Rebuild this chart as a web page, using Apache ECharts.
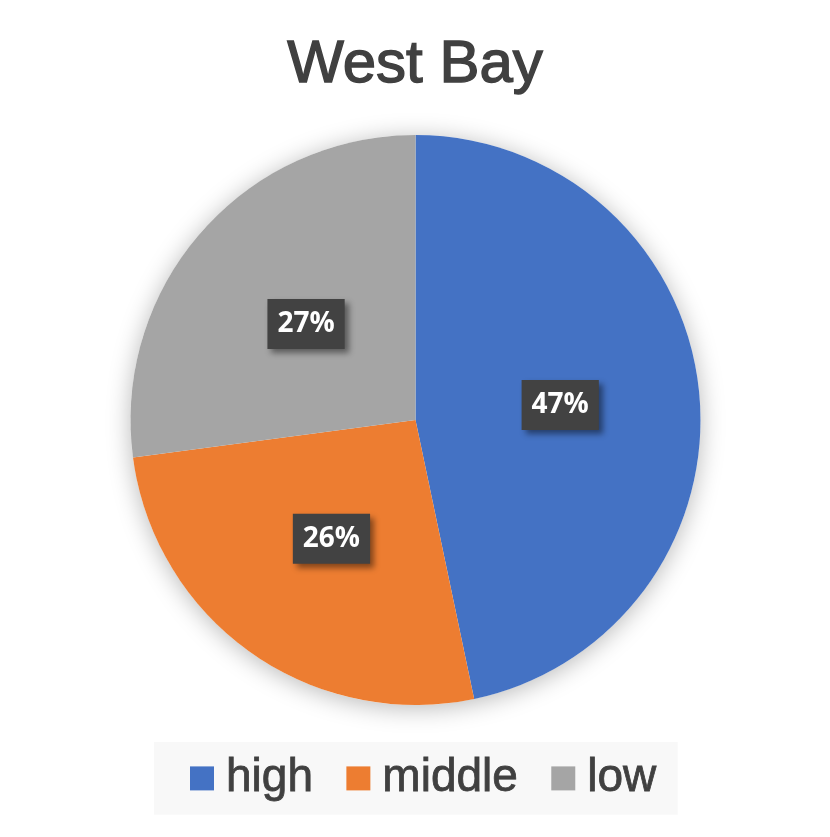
<!DOCTYPE html>
<html>
<head>
<meta charset="utf-8">
<script src="https://cdn.jsdelivr.net/npm/echarts@6/dist/echarts.min.js"></script>
<style>
  html, body { margin: 0; padding: 0; background: #fff; }
  #chart { width: 830px; height: 837px; }
</style>
</head>
<body>
<div id="chart"></div>
<script>
const categories = ['high', 'middle', 'low'];
const values = [46.7, 26.2, 27.1];
const colors = ['#4472C4', '#ED7D31', '#A5A5A5'];

const chart = echarts.init(document.getElementById('chart'));

const option = {
  backgroundColor: '#ffffff',
  animation: false,
  title: {
    text: 'West Bay',
    left: 'center',
    top: 30,
    textStyle: {
      fontFamily: 'Liberation Sans, Arial, sans-serif',
      fontSize: 60,
      fontWeight: 'normal',
      color: '#404040',
      lineHeight: 60,
      // a light stroke to match the heavier face of the original
      textBorderColor: '#404040',
      textBorderWidth: 1.4
    }
  },
  legend: {
    data: categories,
    left: 154,
    top: 742,
    icon: 'rect',
    itemWidth: 24,
    itemHeight: 24,
    itemGap: 33,
    padding: [13, 21, 13, 36],
    backgroundColor: '#f8f8f8',
    textStyle: {
      fontFamily: 'Liberation Sans, Arial, sans-serif',
      fontSize: 46,
      lineHeight: 44,
      color: '#404040',
      textBorderColor: '#404040',
      textBorderWidth: 0.8,
      padding: [0, 0, 0, 7]
    }
  },
  series: [
    {
      // soft shadow under the whole pie
      type: 'pie',
      silent: true,
      z: 1,
      radius: 285,
      center: [415.5, 420],
      label: { show: false },
      labelLine: { show: false },
      itemStyle: {
        color: '#ffffff',
        shadowBlur: 24,
        shadowColor: 'rgba(0,0,0,0.28)',
        shadowOffsetY: 3
      },
      data: [{ value: 1, name: '' }]
    },
    {
      name: 'West Bay',
      type: 'pie',
      z: 2,
      radius: 285,
      center: [415.5, 420],
      startAngle: 90,
      clockwise: true,
      itemStyle: { borderWidth: 0 },
      label: {
        show: true,
        position: 'inside',
        formatter: p => Math.round(p.percent) + '%',
        fontFamily: 'Open Sans, sans-serif',
        fontWeight: 'bold',
        fontSize: 28,
        color: '#ffffff',
        backgroundColor: '#424242',
        padding: [11, 10, 11, 10],
        shadowBlur: 6,
        shadowOffsetX: 4,
        shadowOffsetY: 4,
        shadowColor: 'rgba(0,0,0,0.45)'
      },
      labelLine: { show: false },
      emphasis: { disabled: true },
      data: categories.map((c, i) => ({
        name: c,
        value: values[i],
        itemStyle: { color: colors[i] }
      }))
    }
  ]
};

chart.setOption(option);
</script>
</body>
</html>
